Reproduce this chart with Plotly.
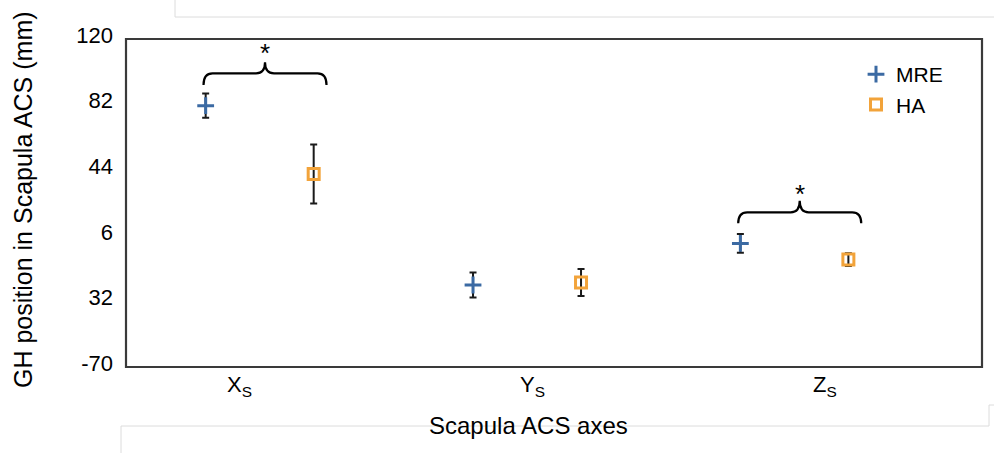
import plotly.graph_objects as go

# ---- data -------------------------------------------------------------
axes_labels = ["X<sub>S</sub>", "Y<sub>S</sub>", "Z<sub>S</sub>"]
mre_mean = [81.4, -22.5, 1.6]
mre_sd = [7.0, 7.2, 5.4]
ha_mean = [41.8, -21.1, -7.8]
ha_sd = [17.1, 7.8, 3.7]

y_tickvals = [-70, -32, 6, 44, 82, 120]
y_ticktext = ["-70", "32", "6", "44", "82", "120"]

# significance braces: (group index, lower end, flat part, tip, star)
sig_groups = [(0, 93.4, 100.1, 106.5, 112.0), (2, 13.2, 19.6, 26.3, 30.0)]

# ---- layout geometry (pixels) ----------------------------------------
FIG_W, FIG_H = 994, 453
L, R, T, B = 126, 982, 39, 367
W, H = R - L, B - T
UNIT = 267.35                    # pixels per category slot
X_RANGE = [0, W / UNIT]
group_pos = [0.5, 1.5, 2.5]      # category centres on the x axis
offset = 0.202                   # MRE left, HA right of centre
label_pos = [0.423, 1.522, 2.615]

FONT = "Liberation Sans, Arial, sans-serif"
BLUE = "#3B6AA3"
ORANGE = "#F2A33A"


def px_x(p):
    return (p - L) / W


def px_y(p):
    return (B - p) / H


fig = go.Figure()

err_style = dict(type="data", visible=True, color="#1a1a1a", thickness=2, width=3.5)

fig.add_trace(go.Scatter(
    x=[g - offset for g in group_pos], y=mre_mean, name="MRE", mode="markers",
    marker=dict(symbol="cross-thin", size=12, color=BLUE, line=dict(color=BLUE, width=3)),
    error_y=dict(array=mre_sd, **err_style),
))
fig.add_trace(go.Scatter(
    x=[g + offset for g in group_pos], y=ha_mean, name="HA", mode="markers",
    marker=dict(symbol="square-open", size=11, color=ORANGE, line=dict(color=ORANGE, width=3)),
    error_y=dict(array=ha_sd, **err_style),
))

shapes = []
annotations = []

# curly braces with asterisks over significant pairs
for gi, y_end, y_flat, y_tip, y_star in sig_groups:
    centre = group_pos[gi] + 0.02
    half = 61.5 / UNIT
    r = 9 / UNIT
    x0, x1 = centre - half, centre + half
    path = (
        f"M {x0},{y_end} Q {x0},{y_flat} {x0 + r},{y_flat} "
        f"L {centre - r},{y_flat} Q {centre},{y_flat} {centre},{y_tip} "
        f"Q {centre},{y_flat} {centre + r},{y_flat} "
        f"L {x1 - r},{y_flat} Q {x1},{y_flat} {x1},{y_end}"
    )
    shapes.append(dict(type="path", xref="x", yref="y", path=path,
                       line=dict(color="black", width=2.2)))
    annotations.append(dict(x=centre, y=y_star, xref="x", yref="y", text="*",
                            xanchor="center", yanchor="middle",
                            showarrow=False, font=dict(family=FONT, size=26, color="black")))

# plot frame
shapes.append(dict(type="rect", xref="paper", yref="paper", x0=0, x1=1, y0=0, y1=1,
                   line=dict(color="#3a3a3a", width=2.2), layer="above"))

# faint outline of surrounding panels
faint = dict(color="#dcdcdc", width=1)
for (a, b, c, d) in [
    (175, 17, 994, 17), (175, 0, 175, 17),
    (121, 426, 989, 426), (121, 426, 121, 453),
    (989, 405, 989, 426), (989, 405, 994, 405),
]:
    shapes.append(dict(type="line", xref="paper", yref="paper",
                       x0=px_x(a), y0=px_y(b), x1=px_x(c), y1=px_y(d), line=faint))

# category labels
for pos, txt in zip(label_pos, axes_labels):
    annotations.append(dict(x=pos, y=px_y(386), xref="x", yref="paper", text=txt,
                            xanchor="center", yanchor="middle",
                            showarrow=False, font=dict(family=FONT, size=22, color="black")))

# axis titles
annotations.append(dict(x=px_x(528), y=px_y(425), xref="paper", yref="paper",
                        text="Scapula ACS axes", showarrow=False,
                        xanchor="center", yanchor="middle",
                        font=dict(family=FONT, size=24, color="black")))
annotations.append(dict(x=px_x(23), y=px_y(200), xref="paper", yref="paper",
                        text="GH position in Scapula ACS (mm)", textangle=-90,
                        xanchor="center", yanchor="middle",
                        showarrow=False, font=dict(family=FONT, size=25, color="black")))

fig.update_layout(
    width=FIG_W, height=FIG_H,
    margin=dict(l=L, r=FIG_W - R, t=T, b=FIG_H - B, pad=0),
    paper_bgcolor="white", plot_bgcolor="white",
    showlegend=True,
    legend=dict(x=px_x(856), y=px_y(54), xanchor="left", yanchor="top",
                font=dict(family=FONT, size=21, color="black"),
                bgcolor="rgba(0,0,0,0)", itemwidth=30, tracegroupgap=0),
    shapes=shapes, annotations=annotations,
    xaxis=dict(range=X_RANGE, showgrid=False, zeroline=False, showticklabels=False,
               ticks="", showline=False, fixedrange=True),
    yaxis=dict(range=[-70, 120], tickvals=y_tickvals, ticktext=y_ticktext,
               showgrid=False, zeroline=False, ticks="", showline=False,
               tickfont=dict(family=FONT, size=22, color="black"),
               ticklabelshift=-4, ticklabelstandoff=12),
)

fig.write_html("out.html")
